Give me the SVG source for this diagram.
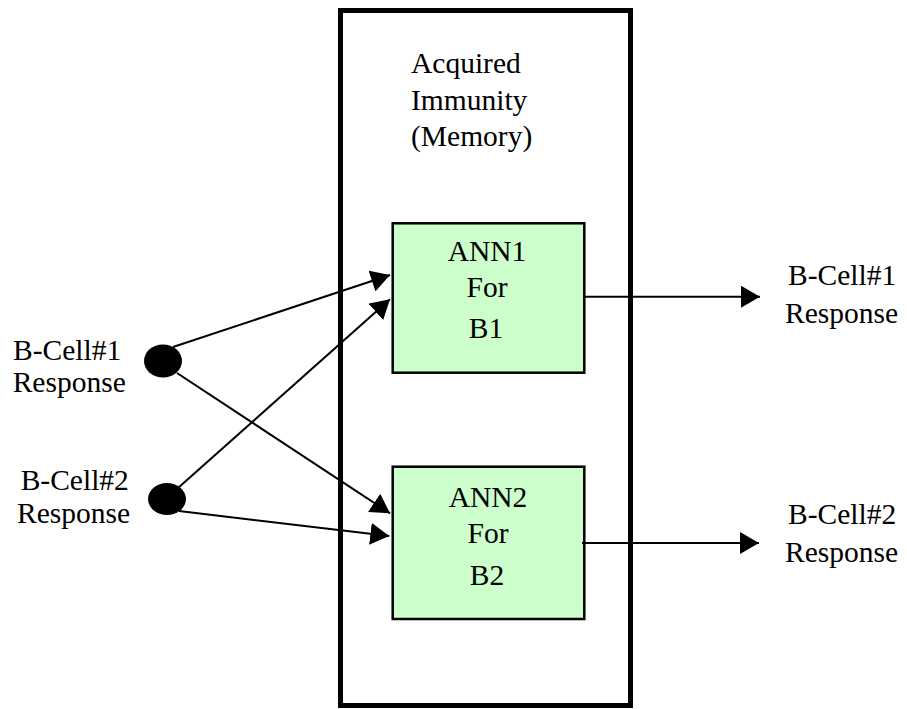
<svg xmlns="http://www.w3.org/2000/svg" width="907" height="709" viewBox="0 0 907 709">
<style>
text{font-family:"Liberation Serif","Times New Roman",serif;font-size:29.5px;fill:#000}
.mid{text-anchor:middle}
.box{fill:#CCFFCC;stroke:#000;stroke-width:2.5}
.conn line{stroke:#000;stroke-width:2;marker-end:url(#ah)}
</style>
<defs>
<marker id="ah" markerUnits="userSpaceOnUse" markerWidth="20" markerHeight="22" refX="19" refY="11" orient="auto" viewBox="0 0 20 22">
<path d="M0,0 L19,11 L0,22 z" fill="#000"/>
</marker>
</defs>
<rect fill="#fff" width="907" height="709"/>
<g id="memory">
<rect x="340.5" y="10.5" width="290" height="695" fill="none" stroke="#000" stroke-width="5"/>
<text x="411" y="73">Acquired</text>
<text x="411" y="110">Immunity</text>
<text x="411" y="146">(Memory)</text>
</g>
<g id="ann1">
<rect class="box" x="392.7" y="223.3" width="191.6" height="149.4"/>
<text class="mid" x="487" y="261">ANN1</text>
<text class="mid" x="487" y="297">For</text>
<text class="mid" x="486" y="338">B1</text>
</g>
<g id="ann2">
<rect class="box" x="392.7" y="466.7" width="191.6" height="152.3"/>
<text class="mid" x="488" y="507">ANN2</text>
<text class="mid" x="488" y="543">For</text>
<text class="mid" x="487" y="585">B2</text>
</g>
<g id="in1">
<ellipse cx="163" cy="361" rx="19" ry="16.5" fill="#000"/>
<text x="13" y="360">B-Cell#1</text>
<text x="12.7" y="392">Response</text>
</g>
<g id="in2">
<ellipse cx="167" cy="499" rx="19" ry="16" fill="#000"/>
<text x="20.7" y="490">B-Cell#2</text>
<text x="17" y="523">Response</text>
</g>
<g id="out1">
<text x="788" y="285">B-Cell#1</text>
<text x="785" y="323">Response</text>
</g>
<g id="out2">
<text x="788" y="524">B-Cell#2</text>
<text x="785" y="562">Response</text>
</g>
<g class="conn" id="connectors">
<line x1="173" y1="347" x2="390" y2="275"/>
<line x1="178" y1="488" x2="390" y2="299.3"/>
<line x1="177" y1="373" x2="390" y2="513.3"/>
<line x1="179" y1="511" x2="389.3" y2="536"/>
<line x1="585" y1="296.7" x2="760" y2="296.7"/>
<line x1="582" y1="543" x2="759" y2="543"/>
</g>
</svg>
